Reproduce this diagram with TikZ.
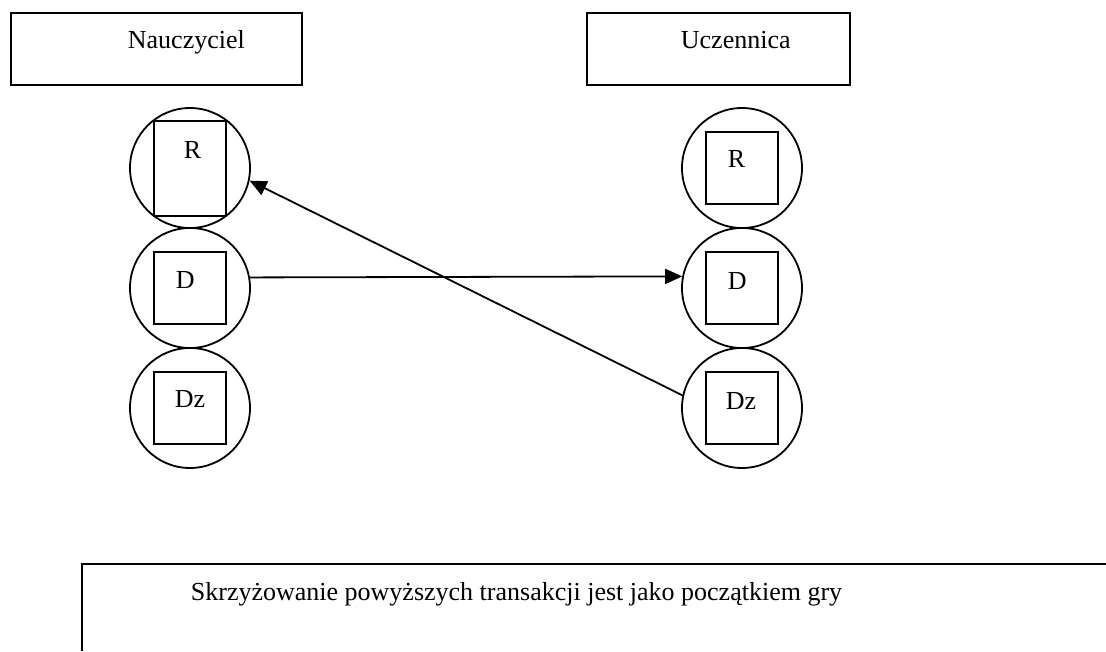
\documentclass[tikz,border=0pt]{standalone}
\usepackage{fontspec}
\setmainfont{Liberation Serif}
\usetikzlibrary{arrows.meta}
\begin{document}
\begin{tikzpicture}[x=1pt,y=-1pt,line width=1.8pt,
  ring/.style={circle,draw,minimum size=120pt,inner sep=0pt},
  sq/.style={draw,minimum width=72pt,minimum height=72pt,inner sep=0pt},
  tall/.style={draw,minimum width=72pt,minimum height=95pt,inner sep=0pt},
  lbl/.style={font=\fontsize{26}{30}\selectfont,inner sep=0pt,anchor=base west},
  hbox/.style={draw,minimum height=72pt,inner sep=0pt,anchor=north west},
  arr/.style={-{Triangle[length=17pt,width=15pt]},line width=1.8pt}]
\useasboundingbox (0,0) rectangle (1106,651);
% header boxes
\node[hbox,minimum width=291pt] (hN) at (10,12) {};
\node[hbox,minimum width=263pt] (hU) at (586,12) {};
\node[lbl] (tN) at (127,48) {Nauczyciel};
\node[lbl] (tU) at (680,48) {Uczennica};
% left column
\node[ring] (rL) at (190,168) {};
\node[ring] (dL) at (190,288) {};
\node[ring] (zL) at (190,408) {};
\node[tall] (srL) at (190,168.5) {};
\node[sq] (sdL) at (190,288) {};
\node[sq] (szL) at (190,408) {};
\node[lbl] (lrL) at (183,158.5) {R};
\node[lbl] (ldL) at (175,288.5) {D};
\node[lbl] (lzL) at (174,407.5) {Dz};
% right column
\node[ring] (rR) at (742,168) {};
\node[ring] (dR) at (742,288) {};
\node[ring] (zR) at (742,408) {};
\node[sq] (srR) at (742,168) {};
\node[sq] (sdR) at (742,288) {};
\node[sq] (szR) at (742,408) {};
\node[lbl] (lrR) at (727,167.5) {R};
\node[lbl] (ldR) at (727,289.5) {D};
\node[lbl] (lzR) at (725,409.5) {Dz};
% connectors
\draw[arr] (dL.10.6) -- (dR.169.4);
\draw[arr] (zR.168.7) -- (rL.-12);
% bottom box
\coordinate (bTR) at (1106,564);
\coordinate (bTL) at (82,564);
\coordinate (bBL) at (82,651);
\draw (bTR) -- (bTL) -- (bBL);
\node[lbl] (tB) at (190,600) {Skrzyżowanie powyższych transakcji jest jako początkiem gry};
\end{tikzpicture}
\end{document}
